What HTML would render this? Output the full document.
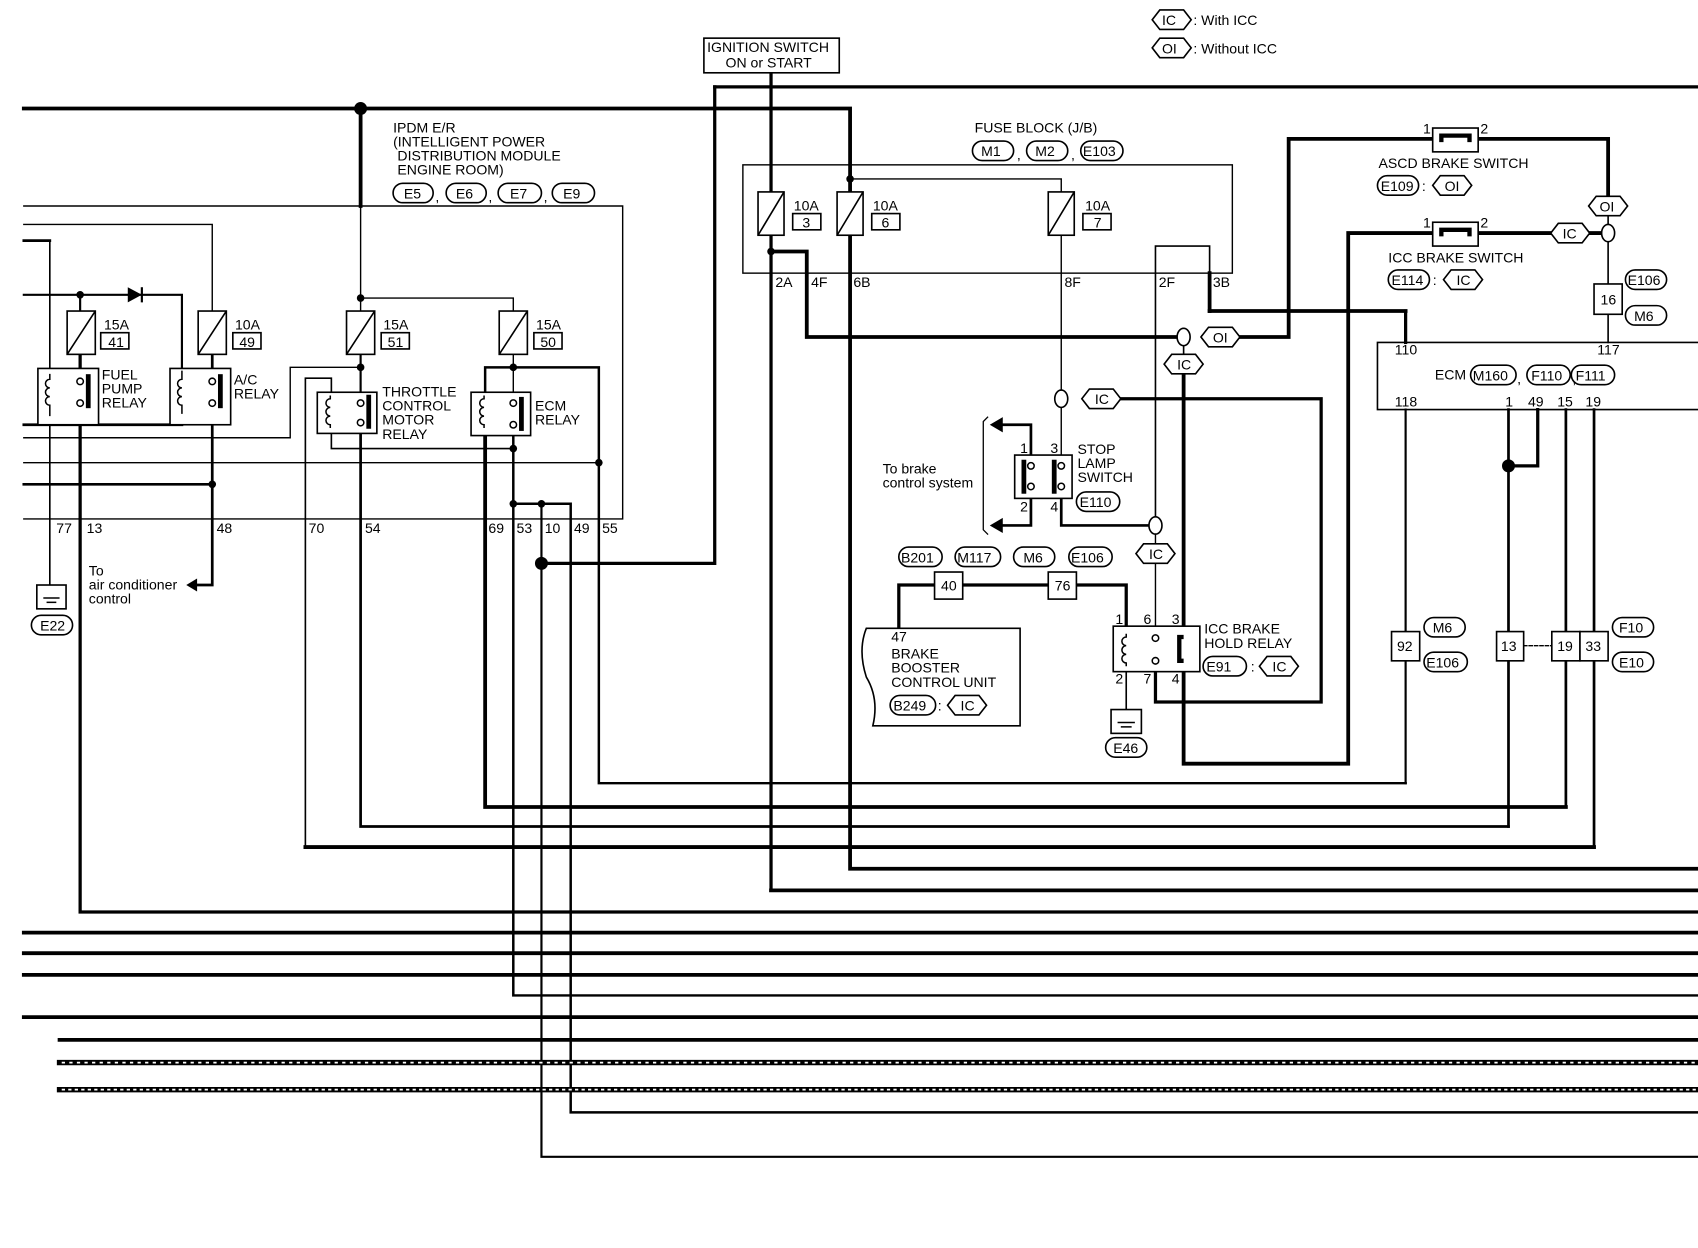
<!DOCTYPE html>
<html><head><meta charset="utf-8"><style>
html,body{margin:0;padding:0;background:#fff}
svg{display:block}
text{font-family:"Liberation Sans",sans-serif;font-size:13px;fill:#000}
</style></head><body>
<svg width="1698" height="1248" viewBox="0 0 1568 1152" xmlns="http://www.w3.org/2000/svg">
<defs>
<g id="hx"><polygon points="-18,0 -11,-9 11,-9 18,0 11,9 -11,9" fill="#fff" stroke="#000" stroke-width="1.5"/></g>
</defs>
<g fill="none" stroke="#000" stroke-linecap="square">
<polyline points="22,100 785,100 785,802 1568,802" stroke-width="3.5"/>
<polyline points="660,80 1568,80" stroke-width="3"/>
<polyline points="660,80 660,520 500,520" stroke-width="3"/>
<line x1="712" y1="67" x2="712" y2="822" stroke-width="3"/>
<line x1="712" y1="822" x2="1568" y2="822" stroke-width="3.5"/>
<line x1="333" y1="100" x2="333" y2="190" stroke-width="3.5"/>
<line x1="333" y1="190" x2="333" y2="287" stroke-width="1.3"/>
<polyline points="22,190 575,190 575,479 22,479" stroke-width="1.3"/>
<polyline points="22,207 196,207 196,287" stroke-width="1.3"/>
<polyline points="22,222 46,222" stroke-width="2.5"/>
<line x1="46" y1="222" x2="46" y2="542" stroke-width="1.5"/>
<polyline points="22,272 168,272 168,342" stroke-width="2"/>
<line x1="74" y1="272" x2="74" y2="287" stroke-width="2"/>
<polyline points="168,380 168,392 22,392" stroke-width="2.5"/>
<polyline points="22,404 268,404 268,339 333,339" stroke-width="1.3"/>
<line x1="22" y1="427" x2="553" y2="427" stroke-width="1.3"/>
<line x1="22" y1="447" x2="196" y2="447" stroke-width="2.5"/>
<polyline points="74,327 74,842 1568,842" stroke-width="3"/>
<polyline points="196,327 196,540 182,540" stroke-width="2.5"/>
<polyline points="333,275 474,275 474,287" stroke-width="1.3"/>
<line x1="333" y1="327" x2="333" y2="362" stroke-width="2"/>
<polyline points="333,395 333,763 1393,763" stroke-width="2.5"/>
<polyline points="282,782 282,349 306,349 306,362" stroke-width="1.5"/>
<line x1="282" y1="782" x2="1472" y2="782" stroke-width="3.5"/>
<polyline points="306,395 306,414 474,414" stroke-width="1.5"/>
<polyline points="448,362 448,339 553,339 553,723 1298,723" stroke-width="2.3"/>
<polyline points="448,398 448,745 1446,745" stroke-width="3.5"/>
<line x1="474" y1="327" x2="474" y2="362" stroke-width="1.3"/>
<polyline points="474,395 474,919 1568,919" stroke-width="2.3"/>
<polyline points="474,465 527,465 527,1027 1568,1027" stroke-width="2.3"/>
<polyline points="500,465 500,1068 1568,1068" stroke-width="2"/>
<line x1="22" y1="861" x2="1568" y2="861" stroke-width="3.5"/>
<line x1="22" y1="880" x2="1568" y2="880" stroke-width="3.5"/>
<line x1="22" y1="900" x2="1568" y2="900" stroke-width="3.5"/>
<line x1="22" y1="939" x2="1568" y2="939" stroke-width="3.5"/>
<line x1="55" y1="960" x2="1568" y2="960" stroke-width="3.5"/>
<line x1="55" y1="981" x2="1568" y2="981" stroke-width="5"/>
<line x1="55" y1="1006" x2="1568" y2="1006" stroke-width="5"/>
<line x1="57" y1="981" x2="1568" y2="981" stroke="#fff" stroke-width="1.6" stroke-dasharray="3,4" stroke-linecap="butt"/>
<line x1="57" y1="1006" x2="1568" y2="1006" stroke="#fff" stroke-width="1.6" stroke-dasharray="3,3" stroke-linecap="butt"/>
<rect x="686" y="152" width="452" height="100" stroke-width="1.3"/>
<polyline points="785,165 980,165 980,177" stroke-width="1.3"/>
<polyline points="712,232 745,232 745,311 1093,311" stroke-width="3.5"/>
<polyline points="1111,311 1190,311 1190,128 1323,128" stroke-width="3.5"/>
<polyline points="1365,128 1485,128 1485,181" stroke-width="3.5"/>
<line x1="1485" y1="199" x2="1485" y2="262" stroke-width="1.5"/>
<line x1="1485" y1="290" x2="1485" y2="316" stroke-width="1.5"/>
<polyline points="1067,485 1067,227 1117,227 1117,287 1298,287 1298,316" stroke-width="1.5"/>
<line x1="1117" y1="252" x2="1117" y2="287" stroke-width="3.5"/>
<line x1="1117" y1="287" x2="1298" y2="287" stroke-width="3.5"/>
<line x1="1298" y1="287" x2="1298" y2="316" stroke-width="3"/>
<line x1="980" y1="217" x2="980" y2="430" stroke-width="1.3"/>
<polyline points="1035,368 1220,368 1220,648 1067,648 1067,610" stroke-width="3"/>
<line x1="1093" y1="320" x2="1093" y2="327" stroke-width="1.5"/>
<polyline points="1093,345 1093,705 1245,705 1245,215 1323,215" stroke-width="3.5"/>
<polyline points="1365,215 1432,215" stroke-width="3.5"/>
<line x1="1468" y1="215" x2="1480" y2="215" stroke-width="3.5"/>
<polyline points="952,430 952,392 925,392" stroke-width="2.5"/>
<polyline points="952,455 952,485 925,485" stroke-width="2.5"/>
<polyline points="980,452 980,485 1061,485" stroke-width="2.5"/>
<line x1="1067" y1="491" x2="1067" y2="502" stroke-width="1.3"/>
<line x1="1067" y1="520" x2="1067" y2="585" stroke-width="1.3"/>
<polyline points="912,385 908,389 908,489 912,493" stroke-width="1.2"/>
<polyline points="830,580 830,540 1040,540 1040,585" stroke-width="3"/>
<line x1="1040" y1="612" x2="1040" y2="655" stroke-width="1.5"/>
<polyline points="1568,316 1272,316 1272,378 1568,378" stroke-width="1.5"/>
<line x1="1298" y1="378" x2="1298" y2="723" stroke-width="2"/>
<line x1="1393" y1="378" x2="1393" y2="763" stroke-width="2.5"/>
<polyline points="1420,378 1420,430 1393,430" stroke-width="3"/>
<line x1="1446" y1="378" x2="1446" y2="745" stroke-width="2.5"/>
<line x1="1472" y1="378" x2="1472" y2="782" stroke-width="2.5"/>
<line x1="1407" y1="596" x2="1433" y2="596" stroke-width="1.3" stroke-dasharray="3,2"/>
</g>
<g fill="#000">
<circle cx="333" cy="100" r="6"/><circle cx="500" cy="520" r="6"/><circle cx="1393" cy="430" r="6"/>
<circle cx="74" cy="272" r="3.5"/><circle cx="196" cy="447" r="3.5"/><circle cx="333" cy="275" r="3.5"/>
<circle cx="333" cy="339" r="3.5"/><circle cx="474" cy="339" r="3.5"/><circle cx="553" cy="427" r="3.5"/>
<circle cx="474" cy="414" r="3.5"/><circle cx="474" cy="465" r="3.5"/><circle cx="500" cy="465" r="3.5"/>
<circle cx="785" cy="165" r="3.5"/><circle cx="712" cy="232" r="3.5"/>
<polygon points="131,272 118,265 118,279"/><line x1="131" y1="265" x2="131" y2="279" stroke="#000" stroke-width="2"/>
<polygon points="172,540 182,534 182,546"/>
<polygon points="914,392 926,385 926,399"/><polygon points="914,485 926,478 926,492"/>
</g>
<g fill="#fff" stroke="#000" stroke-width="1.5">
<ellipse cx="1093" cy="311" rx="6" ry="8"/><ellipse cx="980" cy="368" rx="6" ry="8"/>
<ellipse cx="1067" cy="485" rx="6" ry="8"/><ellipse cx="1485" cy="215" rx="6" ry="8"/>
</g>
<g fill="#fff" stroke="#000" stroke-width="1.5">
<rect x="62" y="287" width="26" height="40"/><line x1="62" y1="327" x2="88" y2="287"/>
<rect x="183" y="287" width="26" height="40"/><line x1="183" y1="327" x2="209" y2="287"/>
<rect x="320" y="287" width="26" height="40"/><line x1="320" y1="327" x2="346" y2="287"/>
<rect x="461" y="287" width="26" height="40"/><line x1="461" y1="327" x2="487" y2="287"/>
<rect x="700" y="177" width="24" height="40"/><line x1="700" y1="217" x2="724" y2="177"/>
<rect x="773" y="177" width="24" height="40"/><line x1="773" y1="217" x2="797" y2="177"/>
<rect x="968" y="177" width="24" height="40"/><line x1="968" y1="217" x2="992" y2="177"/>
<rect x="93" y="307" width="26" height="15"/><rect x="215" y="307" width="26" height="15"/>
<rect x="352" y="307" width="26" height="15"/><rect x="493" y="307" width="26" height="15"/>
<rect x="732" y="197" width="26" height="15"/><rect x="805" y="197" width="26" height="15"/><rect x="1000" y="197" width="26" height="15"/>
<rect x="35" y="340" width="56" height="52"/><rect x="157" y="340" width="56" height="52"/>
<rect x="293" y="362" width="55" height="38"/><rect x="435" y="362" width="55" height="40"/>
<rect x="937" y="420" width="53" height="40"/><rect x="1028" y="578" width="80" height="42"/>
<rect x="650" y="35" width="125" height="32"/>
<rect x="1323" y="118" width="42" height="22"/><rect x="1323" y="205" width="42" height="22"/>
<rect x="1472" y="262" width="26" height="28"/>
<rect x="863" y="528" width="26" height="25"/><rect x="968" y="528" width="26" height="25"/>
<rect x="1285" y="583" width="26" height="27"/><rect x="1382" y="583" width="25" height="27"/>
<rect x="1433" y="583" width="26" height="27"/><rect x="1459" y="583" width="26" height="27"/>
<path d="M800,580 H942 V670 H806 Q812,645 800,625 Q792,600 800,580 Z"/>
<rect x="34" y="540" width="27" height="22"/><rect x="1026" y="655" width="28" height="22"/>
</g>
<g fill="none" stroke="#000" stroke-width="1.4">
<path d="M46,345 v5 a4,4 0 1 0 0,8 a4,4 0 1 0 0,8 a4,4 0 1 0 0,8 v10"/>
<path d="M168,342 v8 a4,4 0 1 0 0,8 a4,4 0 1 0 0,8 a4,4 0 1 0 0,8 v8"/>
<path d="M305,365 v3 a4,4 0 1 0 0,8 a4,4 0 1 0 0,8 a4,4 0 1 0 0,8 v3"/>
<path d="M447,365 v3 a4,4 0 1 0 0,8 a4,4 0 1 0 0,8 a4,4 0 1 0 0,8 v3"/>
<path d="M1040,585 v3 a4,4 0 1 0 0,8 a4,4 0 1 0 0,8 a4,4 0 1 0 0,8 v3"/>
<circle cx="74" cy="352" r="3"/><circle cx="74" cy="372" r="3"/><rect x="80" y="346" width="3" height="30" fill="#000"/>
<circle cx="196" cy="352" r="3"/><circle cx="196" cy="372" r="3"/><rect x="202" y="346" width="3" height="30" fill="#000"/>
<circle cx="333" cy="372" r="3"/><circle cx="333" cy="390" r="3"/><rect x="339" y="365" width="3" height="30" fill="#000"/>
<circle cx="474" cy="372" r="3"/><circle cx="474" cy="392" r="3"/><rect x="480" y="367" width="3" height="30" fill="#000"/>
<circle cx="952" cy="430" r="3"/><circle cx="952" cy="449" r="3"/><rect x="944" y="425" width="3" height="30" fill="#000"/>
<circle cx="980" cy="430" r="3"/><circle cx="980" cy="449" r="3"/><rect x="972" y="425" width="3" height="30" fill="#000"/>
<circle cx="1067" cy="589" r="3"/><circle cx="1067" cy="610" r="3"/>
<path d="M1093,588 h-4 v22 h4" stroke-width="4"/>
<path d="M1331,131 v-6 h26 v6" stroke-width="4"/><path d="M1331,218 v-6 h26 v6" stroke-width="4"/>
<line x1="40" y1="552" x2="55" y2="552"/><line x1="43" y1="556" x2="52" y2="556"/>
<line x1="1032" y1="667" x2="1048" y2="667"/><line x1="1035" y1="671" x2="1045" y2="671"/>
</g>
<g>
<use href="#hx" x="1082" y="18"/><use href="#hx" x="1082" y="44"/>
<use href="#hx" x="1127" y="311"/><use href="#hx" x="1093" y="336"/>
<use href="#hx" x="1017" y="368"/><use href="#hx" x="1067" y="511"/>
<use href="#hx" x="1341" y="171"/><use href="#hx" x="1485" y="190"/>
<use href="#hx" x="1450" y="215"/><use href="#hx" x="1351" y="258"/>
<use href="#hx" x="1181" y="615"/><use href="#hx" x="893" y="651"/>
</g>
<g fill="#fff" stroke="#000" stroke-width="1.5">
<rect x="363" y="169" width="37" height="18" rx="9"/><rect x="412" y="169" width="37" height="18" rx="9"/>
<rect x="460" y="169" width="40" height="18" rx="9"/><rect x="510" y="169" width="39" height="18" rx="9"/>
<rect x="898" y="130" width="38" height="18" rx="9"/><rect x="948" y="130" width="38" height="18" rx="9"/><rect x="998" y="130" width="39" height="18" rx="9"/>
<rect x="1272" y="162" width="38" height="18" rx="9"/><rect x="1282" y="249" width="38" height="18" rx="9"/>
<rect x="1501" y="249" width="38" height="18" rx="9"/><rect x="1501" y="282" width="38" height="18" rx="9"/>
<rect x="1358" y="337" width="42" height="18" rx="9"/><rect x="1410" y="337" width="40" height="18" rx="9"/><rect x="1451" y="337" width="40" height="18" rx="9"/>
<rect x="994" y="454" width="40" height="18" rx="9"/>
<rect x="830" y="505" width="40" height="18" rx="9"/><rect x="882" y="505" width="42" height="18" rx="9"/>
<rect x="936" y="505" width="38" height="18" rx="9"/><rect x="987" y="505" width="40" height="18" rx="9"/>
<rect x="1111" y="606" width="40" height="18" rx="9"/><rect x="822" y="642" width="42" height="18" rx="9"/>
<rect x="1315" y="570" width="38" height="18" rx="9"/><rect x="1315" y="602" width="40" height="18" rx="9"/>
<rect x="1489" y="570" width="38" height="18" rx="9"/><rect x="1489" y="602" width="38" height="18" rx="9"/>
<rect x="29" y="568" width="38" height="18" rx="9"/><rect x="1021" y="681" width="38" height="18" rx="9"/>
</g>
<g>
<text x="1073" y="23">IC</text><text x="1102" y="23">: With ICC</text>
<text x="1073" y="49">OI</text><text x="1102" y="49">: Without ICC</text>
<text x="653" y="48">IGNITION SWITCH</text><text x="670" y="62">ON or START</text>
<text x="363" y="122">IPDM E/R</text><text x="363" y="135">(INTELLIGENT POWER</text><text x="367" y="148">DISTRIBUTION MODULE</text><text x="367" y="161">ENGINE ROOM)</text>
<text x="373" y="183">E5</text><text x="421" y="183">E6</text><text x="471" y="183">E7</text><text x="520" y="183">E9</text>
<text x="402" y="186">,</text><text x="451" y="186">,</text><text x="502" y="186">,</text>
<text x="900" y="122">FUSE BLOCK (J/B)</text>
<text x="906" y="144">M1</text><text x="956" y="144">M2</text><text x="1000" y="144">E103</text>
<text x="939" y="147">,</text><text x="989" y="147">,</text>
<text x="96" y="304">15A</text><text x="100" y="320">41</text>
<text x="217" y="304">10A</text><text x="221" y="320">49</text>
<text x="354" y="304">15A</text><text x="358" y="320">51</text>
<text x="495" y="304">15A</text><text x="499" y="320">50</text>
<text x="733" y="194">10A</text><text x="741" y="210">3</text>
<text x="806" y="194">10A</text><text x="814" y="210">6</text>
<text x="1002" y="194">10A</text><text x="1010" y="210">7</text>
<text x="94" y="350">FUEL</text><text x="94" y="363">PUMP</text><text x="94" y="376">RELAY</text>
<text x="216" y="355">A/C</text><text x="216" y="368">RELAY</text>
<text x="353" y="366">THROTTLE</text><text x="353" y="379">CONTROL</text><text x="353" y="392">MOTOR</text><text x="353" y="405">RELAY</text>
<text x="494" y="379">ECM</text><text x="494" y="392">RELAY</text>
<text x="52" y="492">77</text><text x="80" y="492">13</text><text x="200" y="492">48</text><text x="285" y="492">70</text><text x="337" y="492">54</text>
<text x="451" y="492">69</text><text x="477" y="492">53</text><text x="503" y="492">10</text><text x="530" y="492">49</text><text x="556" y="492">55</text>
<text x="82" y="531">To</text><text x="82" y="544">air conditioner</text><text x="82" y="557">control</text>
<text x="37" y="582">E22</text><text x="1028" y="695">E46</text>
<text x="716" y="265">2A</text><text x="749" y="265">4F</text><text x="788" y="265">6B</text><text x="983" y="265">8F</text><text x="1070" y="265">2F</text><text x="1120" y="265">3B</text>
<text x="1314" y="123">1</text><text x="1367" y="123">2</text><text x="1314" y="210">1</text><text x="1367" y="210">2</text>
<text x="1273" y="155">ASCD BRAKE SWITCH</text><text x="1282" y="242">ICC BRAKE SWITCH</text>
<text x="1275" y="176">E109</text><text x="1313" y="176">:</text><text x="1334" y="176">OI</text>
<text x="1285" y="263">E114</text><text x="1323" y="263">:</text><text x="1345" y="263">IC</text>
<text x="1477" y="195">OI</text><text x="1443" y="220">IC</text><text x="1120" y="316">OI</text><text x="1087" y="341">IC</text>
<text x="1011" y="373">IC</text><text x="1061" y="516">IC</text>
<text x="1503" y="263">E106</text><text x="1509" y="296">M6</text><text x="1478" y="281">16</text>
<text x="1288" y="327">110</text><text x="1475" y="327">117</text><text x="1288" y="375">118</text>
<text x="1390" y="375">1</text><text x="1411" y="375">49</text><text x="1438" y="375">15</text><text x="1464" y="375">19</text>
<text x="1325" y="350">ECM</text><text x="1360" y="351">M160</text><text x="1401" y="354">,</text><text x="1414" y="351">F110</text><text x="1452" y="354">,</text><text x="1455" y="351">F111</text>
<text x="995" y="419">STOP</text><text x="995" y="432">LAMP</text><text x="995" y="445">SWITCH</text>
<text x="942" y="418">1</text><text x="970" y="418">3</text><text x="942" y="472">2</text><text x="970" y="472">4</text>
<text x="997" y="468">E110</text>
<text x="815" y="437">To brake</text><text x="815" y="450">control system</text>
<text x="832" y="519">B201</text><text x="884" y="519">M117</text><text x="945" y="519">M6</text><text x="989" y="519">E106</text>
<text x="869" y="545">40</text><text x="974" y="545">76</text>
<text x="823" y="592">47</text><text x="823" y="608">BRAKE</text><text x="823" y="621">BOOSTER</text><text x="823" y="634">CONTROL UNIT</text>
<text x="825" y="656">B249</text><text x="866" y="656">:</text><text x="887" y="656">IC</text>
<text x="1030" y="576">1</text><text x="1056" y="576">6</text><text x="1082" y="576">3</text>
<text x="1030" y="631">2</text><text x="1056" y="631">7</text><text x="1082" y="631">4</text>
<text x="1112" y="585">ICC BRAKE</text><text x="1112" y="598">HOLD RELAY</text>
<text x="1114" y="620">E91</text><text x="1155" y="620">:</text><text x="1175" y="620">IC</text>
<text x="1290" y="601">92</text><text x="1386" y="601">13</text><text x="1438" y="601">19</text><text x="1464" y="601">33</text>
<text x="1323" y="584">M6</text><text x="1317" y="616">E106</text><text x="1495" y="584">F10</text><text x="1495" y="616">E10</text>
</g>
</svg>
</body></html>
